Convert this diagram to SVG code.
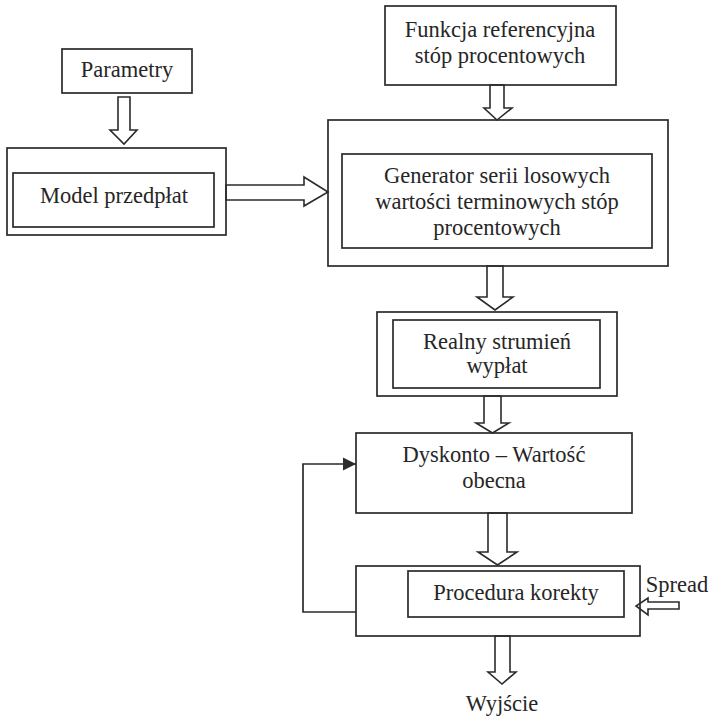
<svg xmlns="http://www.w3.org/2000/svg" width="709" height="719" viewBox="0 0 709 719">
<defs>
<style>
.box{fill:none;stroke:#2b2b2b;stroke-width:1.7}
.blk{fill:#fff;stroke:#2b2b2b;stroke-width:1.6;stroke-linejoin:miter}
.ln{fill:none;stroke:#2b2b2b;stroke-width:1.7}
text{font-family:"Liberation Serif","Times New Roman",serif;font-size:22.5px;fill:#262626;text-anchor:middle}
</style>
<marker id="tri" viewBox="0 0 10 10" refX="10" refY="5" markerWidth="13" markerHeight="15" markerUnits="userSpaceOnUse" orient="auto">
<path d="M0,0 L10,5 L0,10 Z" fill="#2b2b2b"/>
</marker>
</defs>
<rect width="709" height="719" fill="#fff"/>

<g id="connectors">
<!-- Parametry -> Model -->
<path class="blk" d="M118,97 H130 V130 H137 L124,144 L110,130 H118 Z"/>
<!-- Funkcja -> Generator -->
<path class="blk" d="M490,85 H504 V108 H512 L497,120 L484,108 H490 Z"/>
<!-- Model -> Generator -->
<path class="blk" d="M226,185 H304 V177 L328,192 L304,206 V200 H226 Z"/>
<!-- Generator -> Realny -->
<path class="blk" d="M487,266 H503 V297 H513 L495,310 L477,297 H487 Z"/>
<!-- Realny -> Dyskonto -->
<path class="blk" d="M484,396 H501 V423 H509 L492.5,433 L476,423 H484 Z"/>
<!-- Dyskonto -> Procedura -->
<path class="blk" d="M488,513 H507 V552 H517 L497.5,565 L478,552 H488 Z"/>
<!-- Procedura -> Wyjscie -->
<path class="blk" d="M495,636 H510 V672 H516 L502,684 L488,672 H495 Z"/>
<!-- Spread -> Procedura -->
<path class="blk" d="M679,602 V609 H648 V615 L636,606 L648,598 V602 Z"/>
<!-- feedback loop -->
<polyline class="ln" points="356,612 303,612 303,464 356,464" marker-end="url(#tri)"/>
</g>

<g id="parametry">
<rect class="box" x="62" y="49" width="130" height="44"/>
<text x="127" y="77">Parametry</text>
</g>

<g id="model">
<rect class="box" x="7" y="148" width="219" height="87"/>
<rect class="box" x="13" y="173" width="201" height="54"/>
<text x="114" y="203">Model przedpłat</text>
</g>

<g id="funkcja">
<rect class="box" x="385" y="6" width="231" height="79"/>
<text x="500" y="37">Funkcja referencyjna</text>
<text x="500" y="63">stóp procentowych</text>
</g>

<g id="generator">
<rect class="box" x="328" y="120" width="340" height="146"/>
<rect class="box" x="342" y="154" width="310" height="94"/>
<text x="497" y="183">Generator serii losowych</text>
<text x="497" y="209">wartości terminowych stóp</text>
<text x="497" y="235">procentowych</text>
</g>

<g id="realny">
<rect class="box" x="377" y="312" width="240" height="84"/>
<rect class="box" x="393" y="320" width="207" height="68"/>
<text x="497" y="349">Realny strumień</text>
<text x="497" y="373">wypłat</text>
</g>

<g id="dyskonto">
<rect class="box" x="356" y="433" width="276" height="80"/>
<text x="494" y="462">Dyskonto – Wartość</text>
<text x="494" y="488">obecna</text>
</g>

<g id="procedura">
<rect class="box" x="356" y="566" width="284" height="70"/>
<rect class="box" x="408" y="571" width="216" height="46"/>
<text x="516" y="600">Procedura korekty</text>
</g>

<g id="spread">
<text x="677" y="592">Spread</text>
</g>

<g id="wyjscie">
<text x="502" y="711">Wyjście</text>
</g>
</svg>
